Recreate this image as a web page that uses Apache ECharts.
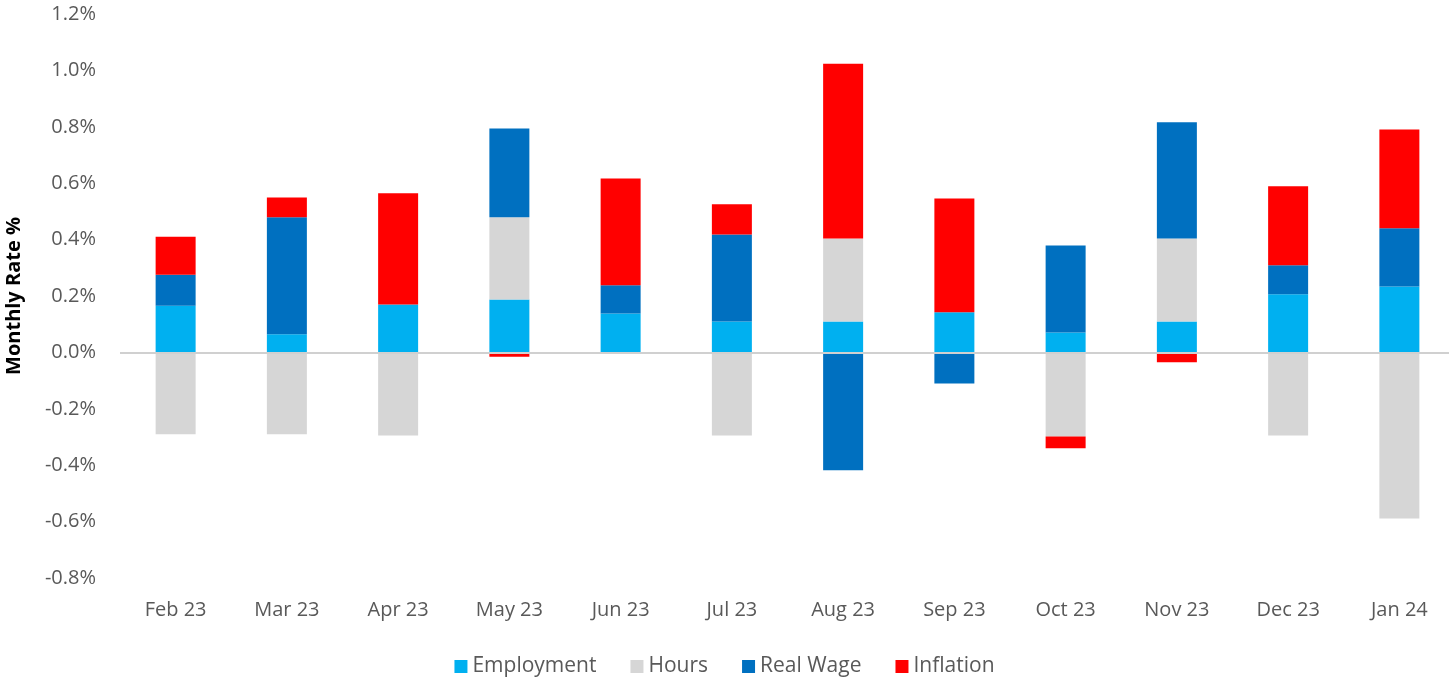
<!DOCTYPE html>
<html>
<head>
<meta charset="utf-8">
<script src="https://cdn.jsdelivr.net/npm/echarts@6/dist/echarts.min.js"></script>
<style>
  html, body { margin: 0; padding: 0; background: #fff; }
  #main { width: 1449px; height: 682px; }
</style>
</head>
<body>
<div id="main"></div>
<script>
var months = ['Feb 23', 'Mar 23', 'Apr 23', 'May 23', 'Jun 23', 'Jul 23',
              'Aug 23', 'Sep 23', 'Oct 23', 'Nov 23', 'Dec 23', 'Jan 24'];
var employment = [0.165, 0.064, 0.17, 0.188, 0.138, 0.11, 0.11, 0.142, 0.071, 0.11, 0.206, 0.234];
var hours      = [-0.29, -0.29, -0.295, 0.291, 0, -0.295, 0.294, 0, -0.298, 0.294, -0.295, -0.589];
var realWage   = [0.11, 0.415, 0, 0.315, 0.1, 0.308, -0.418, -0.11, 0.308, 0.412, 0.103, 0.206];
var inflation  = [0.135, 0.07, 0.394, -0.015, 0.379, 0.107, 0.62, 0.404, -0.042, -0.035, 0.28, 0.35];

var font = '"Open Sans", "Liberation Sans", sans-serif';

function bar(name, data, color) {
    return {
        name: name,
        type: 'bar',
        stack: 'total',
        barWidth: 40,
        itemStyle: { color: color },
        emphasis: { disabled: true },
        data: data
    };
}

var myChart = echarts.init(document.getElementById('main'));
myChart.setOption({
    animation: false,
    grid: { left: 120, top: 14, width: 1335, height: 564, outerBoundsMode: 'none', containLabel: false },
    legend: {
        bottom: 0,
        left: 'center',
        itemWidth: 13,
        itemHeight: 13,
        itemGap: 34,
        icon: 'rect',
        textStyle: { fontFamily: font, fontSize: 21, color: '#595959' },
        data: ['Employment', 'Hours', 'Real Wage', 'Inflation']
    },
    xAxis: {
        type: 'category',
        data: months,
        axisLine: { show: false },
        axisTick: { show: false },
        axisLabel: { fontFamily: font, fontSize: 20, color: '#595959', margin: 22 }
    },
    yAxis: {
        type: 'value',
        min: -0.8,
        max: 1.2,
        interval: 0.2,
        name: 'Monthly Rate %',
        nameLocation: 'middle',
        nameGap: 96,
        nameTextStyle: { fontFamily: font, fontSize: 20, fontWeight: 'bold', color: '#000' },
        splitLine: { show: false },
        axisLine: { show: false },
        axisLabel: {
            fontFamily: font, fontSize: 20, color: '#595959', margin: 24,
            formatter: function (v) { return v.toFixed(1) + '%'; }
        }
    },
    series: [
        bar('Employment', employment, '#00b0f0'),
        bar('Hours', hours, '#d6d6d6'),
        bar('Real Wage', realWage, '#0070c0'),
        Object.assign(bar('Inflation', inflation, '#ff0000'), {
            markLine: {
                silent: true,
                symbol: 'none',
                label: { show: false },
                lineStyle: { color: '#d0d0d0', width: 2, type: 'solid' },
                data: [{ yAxis: 0 }]
            }
        })
    ]
});
</script>
</body>
</html>
